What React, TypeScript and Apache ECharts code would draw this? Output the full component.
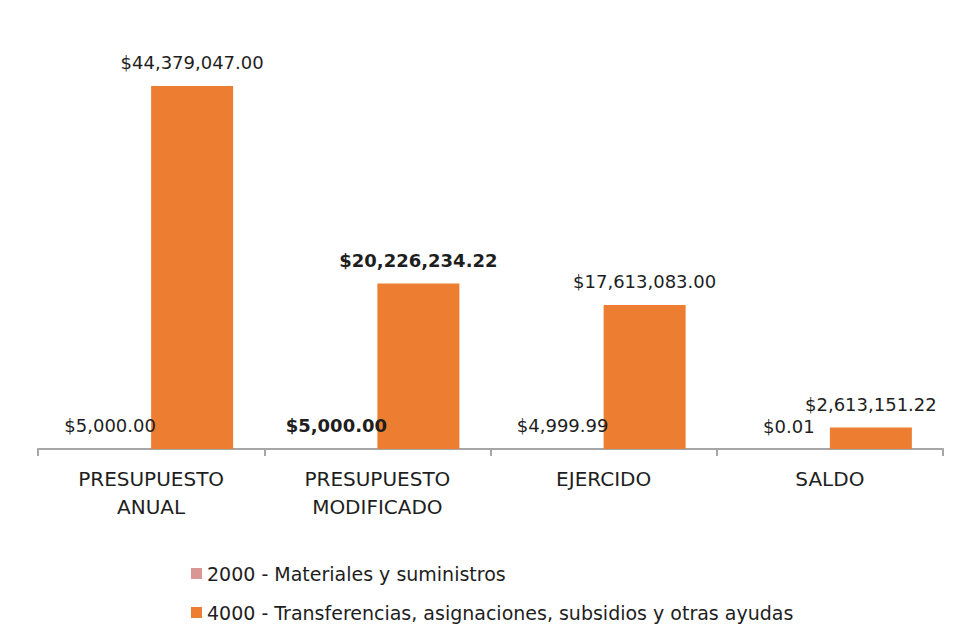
import React, { useEffect, useRef } from "react";
import * as echarts from "echarts";

const categories = ["PRESUPUESTO\nANUAL", "PRESUPUESTO\nMODIFICADO", "EJERCIDO", "SALDO"];
const seriesNames = ["2000 - Materiales y suministros", "4000 - Transferencias, asignaciones, subsidios y otras ayudas"];
const materiales = [5000.0, 5000.0, 4999.99, 0.01];
const transferencias = [44379047.0, 20226234.22, 17613083.0, 2613151.22];
const boldIndex = 1;

const FONT = "DejaVu Sans";

function fmt(v: number): string {
  return "$" + v.toLocaleString("en-US", { minimumFractionDigits: 2, maximumFractionDigits: 2 });
}

function makeData(values: number[]) {
  return values.map((v, i) => ({
    value: v,
    label: i === boldIndex ? { fontWeight: "bold" } : undefined,
  }));
}

export default function App() {
  const ref = useRef<HTMLDivElement>(null);
  useEffect(() => {
    document.body.style.margin = "0";
    const chart = echarts.init(ref.current!, null, { renderer: "svg" });
    const label = {
      show: true,
      position: "top",
      distance: 14,
      color: "#1e1e1e",
      fontFamily: FONT,
      fontSize: 18,
      formatter: (p: any) => fmt(p.value),
    };
    chart.setOption({
      animation: false,
      textStyle: { fontFamily: FONT },
      grid: { left: 38, right: 21, top: 40, bottom: 179, containLabel: false },
      xAxis: {
        type: "category",
        data: categories,
        axisLine: { lineStyle: { color: "#a6a6a6", width: 2 } },
        axisTick: { show: true, length: 7, lineStyle: { color: "#a6a6a6", width: 2 } },
        axisLabel: { color: "#1e1e1e", fontSize: 20, lineHeight: 28, margin: 16, fontFamily: FONT },
      },
      yAxis: { type: "value", min: 0, max: 50000000, show: false, splitLine: { show: false } },
      legend: {
        orient: "vertical",
        left: 186,
        top: 559,
        itemWidth: 11,
        itemHeight: 11,
        itemGap: 20,
        icon: "rect",
        textStyle: { fontSize: 19, color: "#1e1e1e", fontFamily: FONT },
        data: seriesNames,
      },
      series: [
        {
          name: seriesNames[0],
          type: "bar",
          data: makeData(materiales),
          barWidth: 82,
          barGap: "0%",
          itemStyle: { color: "#d99694" },
          label,
        },
        {
          name: seriesNames[1],
          type: "bar",
          data: makeData(transferencias),
          barWidth: 82,
          barGap: "0%",
          itemStyle: { color: "#ed7d31" },
          label,
        },
      ],
    });
    return () => chart.dispose();
  }, []);
  return <div ref={ref} style={{ width: 964, height: 628 }} />;
}
